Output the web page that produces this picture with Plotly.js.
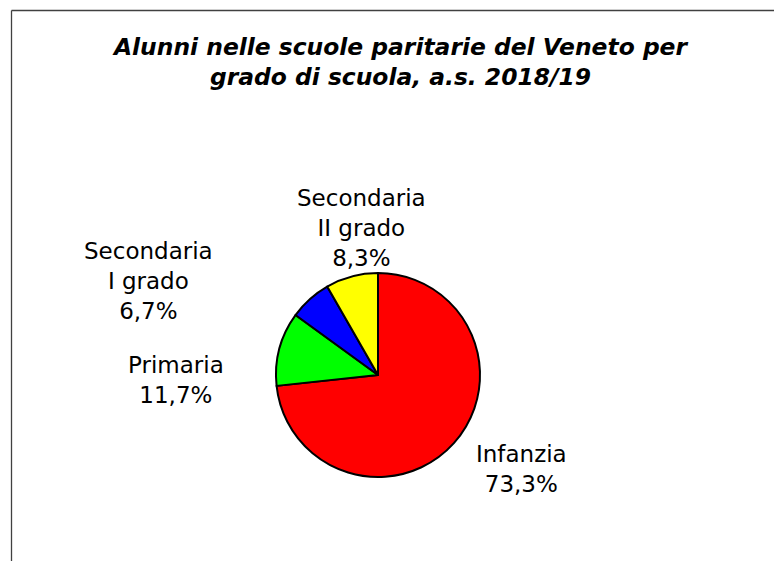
<!DOCTYPE html>
<html>
<head>
<meta charset="utf-8">
<script src="https://cdn.plot.ly/plotly-3.0.1.min.js"></script>
<style>html,body{margin:0;padding:0;background:#fff;}#chart{width:774px;height:561px;}</style>
</head>
<body>
<div id="chart"></div>
<script>
const categories = ["Infanzia", "Primaria", "Secondaria<br>I grado", "Secondaria<br>II grado"];
const values = [73.3, 11.7, 6.7, 8.3];
const valueLabels = ["73,3%", "11,7%", "6,7%", "8,3%"];
const colors = ["#FF0000", "#00FF00", "#0000FF", "#FFFF00"];

const W = 774, H = 561;
const px = x => x / W;
const py = y => 1 - y / H;

// pie geometry (pixels)
const cx = 378, cy = 375, R = 102;

// label positions (pixels)
const labelPos = [[521, 469], [176, 380], [148, 281], [361, 228]];

const trace = {
  type: "pie",
  values: values,
  labels: categories,
  sort: false,
  direction: "clockwise",
  rotation: 0,
  textinfo: "none",
  hoverinfo: "label+value",
  marker: {colors: colors, line: {color: "#000000", width: 2}},
  domain: {x: [px(cx - R), px(cx + R)], y: [py(cy + R), py(cy - R)]},
  showlegend: false
};

const annotations = categories.map((c, i) => ({
  text: c + "<br>" + valueLabels[i],
  x: px(labelPos[i][0]), y: py(labelPos[i][1]),
  xref: "paper", yref: "paper",
  xanchor: "center", yanchor: "middle",
  showarrow: false,
  align: "center",
  font: {family: "DejaVu Sans, Verdana, sans-serif", size: 23, color: "#000"}
}));

annotations.push({
  text: "<b><i>Alunni nelle scuole paritarie del Veneto per<br>grado di scuola, a.s. 2018/19</i></b>",
  x: px(399.5), y: py(62),
  xref: "paper", yref: "paper",
  xanchor: "center", yanchor: "middle",
  showarrow: false, align: "center",
  font: {family: "DejaVu Sans, Verdana, sans-serif", size: 23.4, color: "#000"}
});

const layout = {
  width: W, height: H,
  margin: {l: 0, r: 0, t: 0, b: 0},
  paper_bgcolor: "#ffffff",
  plot_bgcolor: "#ffffff",
  annotations: annotations,
  shapes: [
    {type: "line", xref: "paper", yref: "paper", x0: px(11.5), x1: px(11.5), y0: py(10.5), y1: 0, line: {color: "#404040", width: 1.3}},
    {type: "line", xref: "paper", yref: "paper", x0: px(11.5), x1: 1, y0: py(10.5), y1: py(10.5), line: {color: "#404040", width: 1.3}}
  ]
};

Plotly.newPlot("chart", [trace], layout, {displayModeBar: false, staticPlot: true});
</script>
</body>
</html>
